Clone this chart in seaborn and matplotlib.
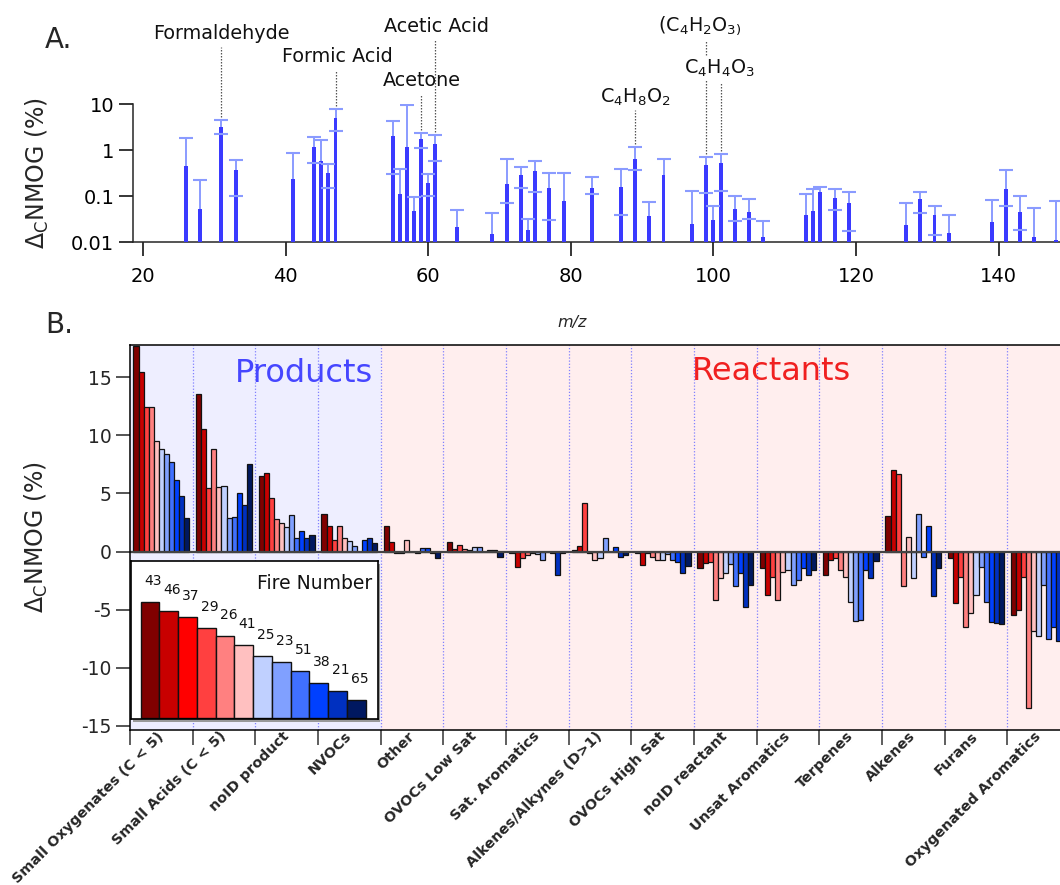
import numpy as np
import pandas as pd
import matplotlib
matplotlib.use("Agg")
import matplotlib.pyplot as plt
from matplotlib.patches import Rectangle
import seaborn as sns

nan = np.nan

# ---------------- Panel A data ----------------
mz = [26, 28, 31, 33, 41, 44, 45, 46, 47, 55, 56, 57, 58, 59, 60, 61, 64, 69, 71, 73,
      74, 75, 77, 79, 83, 87, 89, 91, 93, 97, 99, 100, 101, 103, 105, 107, 113, 114,
      115, 117, 119, 127, 129, 131, 133, 139, 141, 143, 145, 148]
dnmog = [0.46, 0.051, 3.2, 0.36, 0.23, 1.17, 0.57, 0.32, 5.0, 2.0, 0.11, 1.17, 0.047,
         1.7, 0.195, 1.33, 0.021, 0.015, 0.186, 0.29, 0.018, 0.35, 0.15, 0.077, 0.15,
         0.16, 0.63, 0.036, 0.28, 0.025, 0.47, 0.030, 0.53, 0.053, 0.045, 0.013, 0.039,
         0.048, 0.12, 0.092, 0.069, 0.024, 0.085, 0.039, 0.016, 0.027, 0.14, 0.044,
         0.013, 0.011]
err_hi = [1.8, 0.22, 4.4, 0.62, 0.85, 1.9, 1.65, 0.5, 7.6, 4.2, 0.38, 9.4, 0.094, 2.4,
          0.30, 2.1, 0.05, 0.042, 0.65, 0.42, 0.031, 0.58, 0.31, 0.31, 0.26, 0.39,
          1.16, 0.073, 0.63, 0.13, 0.70, 0.06, 0.8, 0.10, 0.086, 0.028, 0.11, 0.14,
          0.16, 0.14, 0.12, 0.069, 0.125, 0.061, 0.039, 0.082, 0.37, 0.10, 0.054, 0.079]
err_lo = [nan, nan, 2.2, 0.1, nan, 0.51, nan, 0.15, 2.6, 0.3, nan, nan, nan, 1.1,
          0.098, 0.58, nan, nan, 0.07, 0.15, nan, 0.12, 0.03, nan, 0.11, 0.039, 0.37,
          nan, nan, nan, 0.115, nan, 0.126, 0.028, 0.032, nan, nan, nan, nan, 0.05,
          0.017, nan, 0.042, 0.014, nan, nan, 0.06, 0.018, nan, nan]

annot_names = ["Formaldehyde", "Formic Acid", "Acetic Acid", "Acetone",
               r"C$_4$H$_8$O$_2$", r"(C$_4$H$_2$O$_{3)}$", r"C$_4$H$_4$O$_3$"]
annot_mz = [31, 47, 61, 59, 89, 99, 101]

# ---------------- Panel B data ----------------
categories = ["Small Oxygenates (C < 5)", "Small Acids (C < 5)", "noID product", "NVOCs",
              "Other", "OVOCs Low Sat", "Sat. Aromatics", "Alkenes/Alkynes (D>1)",
              "OVOCs High Sat", "noID reactant", "Unsat Aromatics", "Terpenes",
              "Alkenes", "Furans", "Oxygenated Aromatics"]
fires_legend = ["43", "46", "37", "29", "26", "41", "25", "23", "51", "38", "21", "65"]
fire_colors = ["#800000", "#C80000", "#FF0000", "#FF4040", "#FF8080", "#FFC0C0",
               "#C0D0FF", "#80A0FF", "#4070FF", "#0040FF", "#0030C0", "#001860"]
legend_heights = [116, 107, 100.7, 89.3, 81.7, 72.7, 61.3, 55.7, 47, 34.7, 26.7, 18]

fires_plot = ["43", "46", "29", "26", "41", "25", "23", "51", "38", "21", "65"]
g_small_oxy = [17.68, 15.47, 12.46, 12.41, 9.51, 8.85, 8.37, 7.68, 6.16, 4.76, 2.87]
g_small_acid = [13.52, 10.57, 5.42, 8.83, 5.56, 5.62, 2.87, 3.01, 5.04, 4.04, 7.56]
g_noid_prod = [6.53, 6.79, 4.58, 2.81, 2.46, 2.09, 3.12, 1.12, 1.75, 1.17, 1.38]
g_nvocs = [3.24, 2.2, 1.03, 2.2, 1.12, 0.89, 0.46, -0.05, 0.97, 1.15, 0.74]
g_other = [2.21, 0.86, -0.1, -0.1, 1.0, -0.05, -0.1, 0.34, 0.29, -0.1, -0.52]
g_ovoc_low = [0.86, 0.2, 0.52, 0.23, 0.11, 0.43, 0.43, -0.05, 0.09, 0.09, -0.49]
g_sat_arom = [-0.14, -1.29, -0.52, -0.32, -0.11, -0.23, -0.74, -0.06, -0.11, -2.0, -0.11]
g_alkyn = [0.11, 0.46, 4.18, -0.1, -0.74, -0.52, 1.12, -0.05, 0.43, -0.46, -0.34]
g_ovoc_high = [-0.1, -1.12, -0.1, -0.46, -0.72, -0.74, -0.23, -0.69, -0.86, -1.83, -1.26]
g_noid_reac = [-1.4, -0.97, -0.92, -4.18, -2.32, -1.86, -1.06, -3.0, -1.83, -4.76, -2.9]
g_unsat_arom = [-1.43, -3.72, -2.23, -4.18, -1.72, -1.55, -2.92, -2.41, -1.38, -2.0, -1.55]
g_terpenes = [-2.03, -0.74, -0.57, -1.63, -2.15, -4.33, -5.99, -5.93, -1.63, -2.32, -0.83]
g_alkenes = [3.09, 7.05, 6.68, -2.95, 1.26, -2.29, 3.21, -0.46, 2.18, -3.84, -1.46]
g_furans = [-0.52, -4.47, -2.23, -6.5, -5.27, -3.7, -1.32, -4.38, -6.05, -6.16, -6.25]
g_oxy_arom = [-5.5, -4.99, -2.23, -13.5, -6.82, -7.28, -2.84, -7.54, -6.48, -7.68, -7.0]
group_values = [g_small_oxy, g_small_acid, g_noid_prod, g_nvocs, g_other, g_ovoc_low,
                g_sat_arom, g_alkyn, g_ovoc_high, g_noid_reac, g_unsat_arom, g_terpenes,
                g_alkenes, g_furans, g_oxy_arom]

# ---------------- style ----------------
sns.set_theme(style="ticks")
plt.rcParams["font.family"] = ["DejaVu Sans"]
plt.rcParams["mathtext.fontset"] = "dejavusans"
plt.rcParams["axes.linewidth"] = 1.1

W, H = 1060, 885
fig = plt.figure(figsize=(W / 100, H / 100), dpi=100)
fig.patch.set_facecolor("white")


def box(l, t, r, b):
    return [l / W, 1 - b / H, (r - l) / W, (b - t) / H]


# ================= Panel A =================
axA = fig.add_axes(box(133, 104, 1070, 242))
dfA = pd.DataFrame({"mz": mz, "v": dnmog})
sns.barplot(data=dfA, x="mz", y="v", native_scale=True, width=0.55, color="#3a3aff",
            errorbar=None, ax=axA, zorder=3, linewidth=0, saturation=1)
mz_arr = np.array(mz, float)
hi_arr = np.array(err_hi, float)
lo_arr = np.array(err_lo, float)
v_arr = np.array(dnmog, float)
ecol = "#8a9bff"
bottoms = np.where(np.isnan(lo_arr), v_arr, lo_arr)
axA.vlines(mz_arr, bottoms, hi_arr, color=ecol, lw=1.4, zorder=2)
axA.plot(mz_arr, hi_arr, ls="none", marker="_", ms=10, mew=1.5, color=ecol, zorder=4)
m = ~np.isnan(lo_arr)
axA.plot(mz_arr[m], lo_arr[m], ls="none", marker="_", ms=10, mew=1.5, color=ecol, zorder=4)

axA.set_yscale("log")
axA.set_ylim(0.01, 10)
axA.set_xlim(18.6, 150.0)
axA.set_yticks([0.01, 0.1, 1, 10])
axA.set_yticklabels(["0.01", "0.1", "1", "10"])
axA.yaxis.set_minor_locator(matplotlib.ticker.NullLocator())
axA.set_xticks([20, 40, 60, 80, 100, 120, 140])
axA.set_xticklabels(["20", "40", "60", "80", "100", "120", "140"])
axA.tick_params(axis="both", labelsize=14, length=10, width=1.1, direction="out",
                colors="black")
axA.tick_params(axis="x", pad=8)
axA.spines["top"].set_visible(False)
axA.spines["right"].set_visible(False)
axA.set_xlabel("")
axA.set_ylabel(r"$\Delta_\mathrm{C}$NMOG (%)", fontsize=17)
axA.yaxis.set_label_coords(-0.088, 0.5)

# annotations (y in axes fraction)
trA = axA.get_xaxis_transform()
text_x = [31, 47.2, 61.1, 59.1, 89, 98.1, 100.9]
text_y = [1.514, 1.341, 1.565, 1.167, 1.051, 1.565, 1.261]
line_top = [1.413, 1.239, 1.464, 1.065, 0.957, 1.464, 1.16]
hi_map = dict(zip(mz, err_hi))
for name, x0, tx, ty, lt in zip(annot_names, annot_mz, text_x, text_y, line_top):
    yb = (np.log10(hi_map[x0]) + 2) / 3
    axA.plot([x0, x0], [yb, lt], transform=trA, ls=(0, (1.2, 1.2)), color="#555555",
             lw=0.9, clip_on=False, zorder=1)
for name, x0, tx, ty, lt in zip(annot_names, annot_mz, text_x, text_y, line_top):
    kw = {}
    if x0 == 101:
        kw["bbox"] = dict(facecolor="white", edgecolor="none", pad=1)
    axA.text(tx, ty, name, transform=trA, ha="center", va="center", fontsize=13.8,
             color="#111111", clip_on=False, zorder=6, **kw)

fig.text(45 / W, 1 - 40 / H, "A.", fontsize=20, va="center", ha="left")
fig.text(45 / W, 1 - 325 / H, "B.", fontsize=20, va="center", ha="left")
fig.text(572 / W, 1 - 322 / H, "m/z", fontsize=11.5, style="italic", ha="center", va="center")

# ================= Panel B =================
axB = fig.add_axes(box(130, 345, 1070, 730))
rows = []
for cat, vals in zip(categories, group_values):
    for f, v in zip(fires_plot, vals):
        rows.append({"group": cat, "fire": f, "value": v})
dfB = pd.DataFrame(rows)
pal = dict(zip(fires_legend, fire_colors))

axB.axvspan(-0.5, 3.5, color="#EEEEFF", zorder=0, lw=0)
axB.axvspan(3.5, 14.5, color="#FFEEEE", zorder=0, lw=0)
for i in range(1, 15):
    axB.axvline(i - 0.5, color="#8080ff", ls=(0, (1, 1.5)), lw=0.9, zorder=0.5)

sns.barplot(data=dfB, x="group", y="value", hue="fire", order=categories,
            hue_order=fires_plot, palette=pal, width=0.89, dodge=True, errorbar=None,
            edgecolor="#111111", linewidth=0.9, saturation=1, legend=False, ax=axB,
            zorder=2)
axB.axhline(0, color="#444444", lw=1.6, zorder=2.5)

axB.set_xlim(-0.5, 14.5)
axB.set_ylim(-15.35, 17.76)
axB.set_yticks([-15, -10, -5, 0, 5, 10, 15])
axB.set_yticklabels(["-15", "-10", "-5", "0", "5", "10", "15"])
axB.tick_params(axis="y", labelsize=13.5, length=10, width=1.1, direction="out")
axB.set_xticks(np.arange(15))
axB.set_xticklabels(categories, fontsize=10.4, fontweight="bold", rotation=45,
                    ha="right", va="center", rotation_mode="anchor")
axB.set_xticks(np.arange(16) - 0.5, minor=True)
axB.tick_params(axis="x", which="major", length=0, pad=3)
axB.tick_params(axis="x", which="minor", length=11, width=1.1, direction="out",
                color="#333333")
axB.set_xlabel("")
axB.set_ylabel(r"$\Delta_\mathrm{C}$NMOG (%)", fontsize=17)
axB.yaxis.set_label_coords(-0.085, 0.5)
for s in axB.spines.values():
    s.set_color("black")
    s.set_linewidth(1.1)

axB.text(0.185, 0.927, "Products", transform=axB.transAxes, fontsize=23,
         color="#4646ff", ha="center", va="center")
axB.text(0.682, 0.932, "Reactants", transform=axB.transAxes, fontsize=23,
         color="#f02020", ha="center", va="center")

# shadow of legend inset
sh = Rectangle((133 / W, 1 - 722 / H), 247 / W, 158 / H, transform=fig.transFigure,
               facecolor="#999999", edgecolor="none", zorder=10, clip_on=False)
axB.add_patch(sh)

# ================= Legend inset =================
axL = fig.add_axes(box(131, 561, 378, 719))
axL.set_facecolor("white")
dfL = pd.DataFrame({"fire": fires_legend, "h": legend_heights})
sns.barplot(data=dfL, x="fire", y="h", hue="fire", order=fires_legend,
            hue_order=fires_legend, palette=pal, width=1.0, errorbar=None,
            edgecolor="#111111", linewidth=1.0, saturation=1, legend=False, ax=axL)
axL.set_xlim(-1.02, 12.16)
axL.set_ylim(-1.3, 156.7)
for i, (f, h) in enumerate(zip(fires_legend, legend_heights)):
    axL.text(i + 0.18, h + 21, f, ha="center", va="center", fontsize=10, color="#111111")
axL.text(0.975, 0.855, "Fire Number", transform=axL.transAxes, ha="right", va="center",
         fontsize=13.5, color="#111111")
axL.set_xticks([])
axL.set_yticks([])
axL.set_xlabel("")
axL.set_ylabel("")
for s in axL.spines.values():
    s.set_visible(True)
    s.set_color("black")
    s.set_linewidth(1.2)

fig.savefig("out.png", dpi=100)
